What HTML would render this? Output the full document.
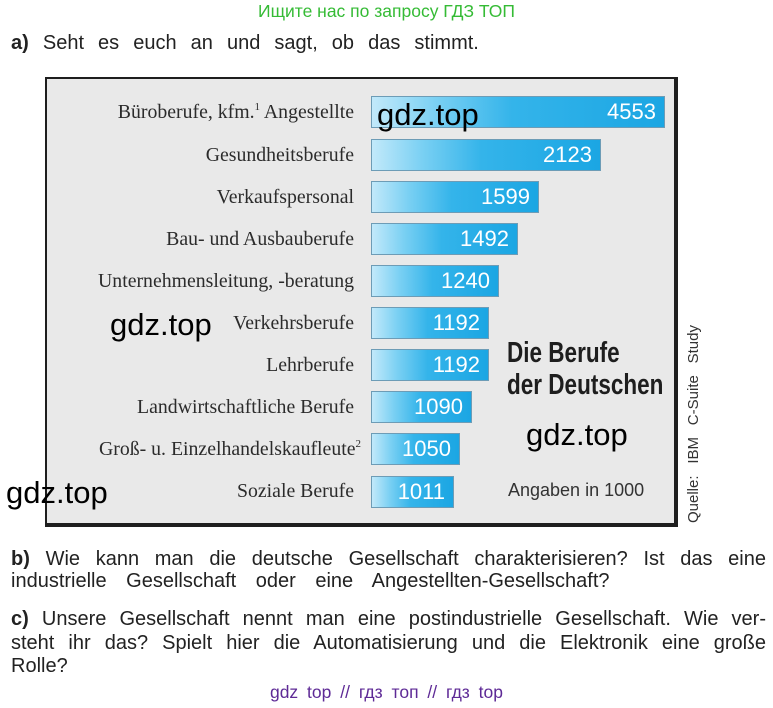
<!DOCTYPE html>
<html>
<head>
<meta charset="utf-8">
<style>
  html,body{margin:0;padding:0;background:#fff;}
  body{width:773px;height:708px;position:relative;overflow:hidden;font-family:"Liberation Sans",Arial,sans-serif;}
  .abs{position:absolute;white-space:nowrap;}
  .box{position:absolute;left:45px;top:77px;width:627px;height:444px;background:#e9e9e9;border:2px solid #1e1e1e;border-right-width:4px;border-bottom-width:4px;}
  .bar{position:absolute;left:371px;height:30px;border:1px solid #6d9cb6;
       background:linear-gradient(to right,#c2e9fa 0%,#7ad0f3 22%,#34b4ea 48%,#1ba6e3 100%);
       box-sizing:content-box;}
  .bar span{position:absolute;right:8px;top:0;line-height:30px;font-size:22px;color:#fff;font-family:"Liberation Sans",Arial,sans-serif;}
  .lab{position:absolute;right:419px;height:32px;line-height:32px;font-family:"Liberation Serif","Times New Roman",serif;font-size:19.8px;color:#2b2b2b;white-space:nowrap;text-align:right;}
  .lab sup{font-size:11px;line-height:0;vertical-align:0;position:relative;top:-8px;}
  .wm{position:absolute;font-size:31px;line-height:31px;color:#000;white-space:nowrap;font-family:"Liberation Sans",Arial,sans-serif;}
  .para{position:absolute;left:11px;width:755px;font-size:20px;line-height:20px;color:#222;white-space:nowrap;}
  .just{text-align:justify;text-align-last:justify;}
</style>
</head>
<body>

<div class="abs" style="left:0;width:773px;top:3px;text-align:center;font-size:17.5px;line-height:17px;color:#35bb35;">Ищите нас по запросу ГДЗ ТОП</div>

<div class="abs" style="left:11px;top:33px;font-size:20px;line-height:20px;color:#222;word-spacing:8.5px;"><b>a)</b> Seht es euch an und sagt, ob das stimmt.</div>

<div class="box"></div>

<!-- labels -->
<div class="lab" style="top:96px;">Büroberufe, kfm.<sup>1</sup> Angestellte</div>
<div class="lab" style="top:139px;">Gesundheitsberufe</div>
<div class="lab" style="top:181px;">Verkaufspersonal</div>
<div class="lab" style="top:223px;">Bau- und Ausbauberufe</div>
<div class="lab" style="top:265px;">Unternehmensleitung, -beratung</div>
<div class="lab" style="top:307px;">Verkehrsberufe</div>
<div class="lab" style="top:349px;">Lehrberufe</div>
<div class="lab" style="top:391px;">Landwirtschaftliche Berufe</div>
<div class="lab" style="top:433px;">Groß- u. Einzelhandelskaufleute<sup style="margin-right:-7px;">2</sup></div>
<div class="lab" style="top:475px;">Soziale Berufe</div>

<!-- bars -->
<div class="bar" style="top:96px;width:292px;"><span>4553</span></div>
<div class="bar" style="top:139px;width:228px;"><span>2123</span></div>
<div class="bar" style="top:181px;width:166px;"><span>1599</span></div>
<div class="bar" style="top:223px;width:145px;"><span>1492</span></div>
<div class="bar" style="top:265px;width:126px;"><span>1240</span></div>
<div class="bar" style="top:307px;width:116px;"><span>1192</span></div>
<div class="bar" style="top:349px;width:116px;"><span>1192</span></div>
<div class="bar" style="top:391px;width:99px;"><span>1090</span></div>
<div class="bar" style="top:433px;width:87px;"><span>1050</span></div>
<div class="bar" style="top:476px;width:81px;"><span>1011</span></div>

<!-- title -->
<div class="abs" style="left:507px;top:337px;font-size:28.5px;line-height:32px;font-weight:bold;color:#1e1e1e;transform:scaleX(0.79);transform-origin:left top;">Die Berufe</div>
<div class="abs" style="left:507px;top:369px;font-size:28.5px;line-height:32px;font-weight:bold;color:#1e1e1e;transform:scaleX(0.79);transform-origin:left top;">der Deutschen</div>

<div class="abs" style="left:508px;top:481px;font-size:18px;line-height:18px;color:#333;">Angaben in 1000</div>

<div class="abs just" style="left:595px;top:415px;width:198px;height:18px;font-size:15px;line-height:18px;color:#333;transform:rotate(-90deg);transform-origin:center;">Quelle: IBM C-Suite Study</div>

<!-- watermarks -->
<div class="wm" style="left:377px;top:99px;">gdz.top</div>
<div class="wm" style="left:110px;top:309px;">gdz.top</div>
<div class="wm" style="left:526px;top:419px;">gdz.top</div>
<div class="wm" style="left:6px;top:477px;">gdz.top</div>

<!-- questions -->
<div class="para just" style="top:549px;"><b>b)</b> Wie kann man die deutsche Gesellschaft charakterisieren? Ist das eine</div>
<div class="para" style="top:571px;word-spacing:14px;">industrielle Gesellschaft oder eine Angestellten-Gesellschaft?</div>
<div class="para just" style="top:609px;"><b>c)</b> Unsere Gesellschaft nennt man eine postindustrielle Gesellschaft. Wie ver-</div>
<div class="para just" style="top:633px;">steht ihr das? Spielt hier die Automatisierung und die Elektronik eine große</div>
<div class="para" style="top:656px;">Rolle?</div>

<div class="abs" style="left:0;width:773px;top:684px;text-align:center;font-size:17.5px;line-height:17px;color:#5e2a96;word-spacing:4px;">gdz top // гдз топ // гдз top</div>

</body>
</html>
